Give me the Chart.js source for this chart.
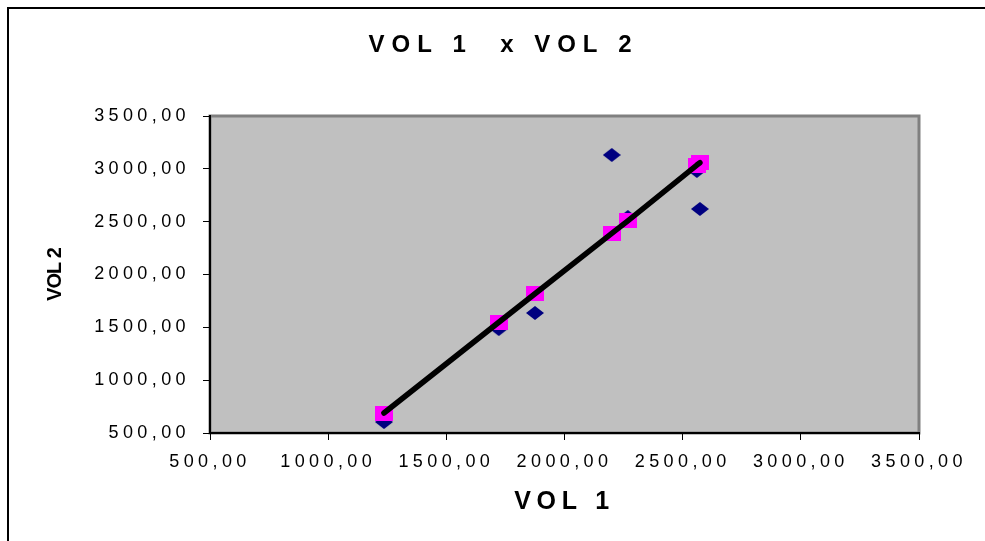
<!DOCTYPE html>
<html>
<head>
<meta charset="utf-8">
<script src="https://cdn.jsdelivr.net/npm/chart.js@4.4.1/dist/chart.umd.min.js"></script>
<style>
  html, body { margin: 0; padding: 0; background: #fff; }
  #wrap { width: 985px; height: 541px; }
</style>
</head>
<body>
<div id="wrap"><canvas id="chart" width="985" height="541"></canvas></div>

<script>
  // values
  const vol1 = [1236, 1722, 1875, 2200, 2268, 2560, 2573];
  const vol2 = [604, 1484, 1636, 3131, 2544, 2980, 2620];
  const vol2Fit = [689, 1548, 1818, 2390, 2508, 3036, 3058];
  const axisTicks = [500, 1000, 1500, 2000, 2500, 3000, 3500];

  const FAMILY = "'Liberation Sans', Arial, Helvetica, sans-serif";

  // extra letter spacing per font, the old Excel look
  const SPACING = { "bold 24": 7, "bold 25": 5.7, "bold 20": -1, "normal 18": 4.4 };

  const canvas = document.getElementById("chart");
  const ctx = canvas.getContext("2d");
  const plainFillText = ctx.fillText;
  ctx.fillText = function (text, x, y, maxWidth) {
    const m = this.font.match(/([\d.]+)px/);
    const size = m ? Math.round(parseFloat(m[1])) : 0;
    const key = (/bold|700/.test(this.font) ? "bold " : "normal ") + size;
    this.letterSpacing = (SPACING[key] || 0) + "px";
    plainFillText.call(this, text, x, y, maxWidth);
    this.letterSpacing = "0px";
  };

  function marker(w, h, color, diamond) {
    const c = document.createElement("canvas");
    c.width = w;
    c.height = h;
    const g = c.getContext("2d");
    g.fillStyle = color;
    if (diamond) {
      g.beginPath();
      g.moveTo(w / 2, 0);
      g.lineTo(w, h / 2);
      g.lineTo(w / 2, h);
      g.lineTo(0, h / 2);
      g.closePath();
      g.fill();
    } else {
      g.fillRect(0, 0, w, h);
    }
    return c;
  }

  const observed = vol1.map((x, i) => ({ x: x, y: vol2[i] }));
  const fitted = vol1.map((x, i) => ({ x: x, y: vol2Fit[i] }));

  const frame = {
    id: "frame",
    beforeDraw(chart) {
      const c = chart.ctx;
      const a = chart.chartArea;
      c.save();
      c.fillStyle = "#c0c0c0";
      c.fillRect(a.left, a.top, a.right - a.left, a.bottom - a.top);
      c.strokeStyle = "#808080";
      c.lineWidth = 3;
      c.strokeRect(a.left, a.top, a.right - a.left, a.bottom - a.top);
      c.strokeStyle = "#000";
      c.lineWidth = 2;
      c.beginPath();
      c.moveTo(8, chart.height);
      c.lineTo(8, 8);
      c.lineTo(chart.width, 8);
      c.stroke();
      c.restore();
    },
  };

  const fmt = (v) => v.toFixed(2).replace(".", ",");

  function axis(extra) {
    return Object.assign({
      type: "linear",
      min: axisTicks[0],
      max: axisTicks[axisTicks.length - 1],
      afterBuildTicks: (s) => { s.ticks = axisTicks.map((v) => ({ value: v })); },
      grid: { drawOnChartArea: false, drawTicks: true, tickLength: 7, color: "#000", lineWidth: 1 },
      border: { display: true, color: "#000", width: 2 },
    }, extra);
  }

  new Chart(ctx, {
    type: "scatter",
    data: {
      datasets: [
        {
          label: "Linear (VOL 2)",
          data: fitted,
          showLine: true,
          borderColor: "#000",
          borderWidth: 5.5,
          borderCapStyle: "round",
          borderJoinStyle: "round",
          pointRadius: 0,
        },
        {
          label: "VOL 2 previsto",
          data: fitted,
          pointStyle: marker(18, 15, "#ff00ff", false),
          pointRadius: 9,
        },
        {
          label: "VOL 2",
          data: observed,
          pointStyle: marker(18, 14, "#000080", true),
          pointRadius: 9,
        },
      ],
    },
    options: {
      responsive: false,
      animation: false,
      devicePixelRatio: 1,
      layout: { padding: { left: 22, right: 0, top: 0, bottom: 0 } },
      plugins: {
        legend: { display: false },
        tooltip: { enabled: false },
        title: {
          display: true,
          text: "VOL 1  x VOL 2",
          color: "#000",
          font: { family: FAMILY, size: 24, weight: "bold" },
          padding: { top: 31, bottom: 56.2 },
        },
      },
      scales: {
        x: axis({
          position: "bottom",
          afterFit: (s) => { s.height = 108; },
          ticks: { color: "#000", padding: 11, maxRotation: 0, autoSkip: false,
            font: { family: FAMILY, size: 18 }, callback: fmt },
          title: { display: true, text: "VOL 1", color: "#000",
            font: { family: FAMILY, size: 25, weight: "bold" },
            padding: { top: 0, bottom: 24 } },
        }),
        y: axis({
          position: "left",
          afterFit: (s) => { s.width = 188; },
          ticks: { color: "#000", padding: 13, autoSkip: false,
            font: { family: FAMILY, size: 18 }, callback: fmt },
          title: { display: true, text: "VOL 2", color: "#000",
            font: { family: FAMILY, size: 20, weight: "bold" },
            padding: { top: 21, bottom: 0 } },
        }),
        // empty strip on the right, keeps the plot off the edge
        side: {
          position: "right",
          display: true,
          afterFit: (s) => { s.width = 66; },
          grid: { display: false },
          border: { display: false },
          ticks: { display: false },
        },
      },
    },
    plugins: [frame],
  });
</script>
</body>
</html>
